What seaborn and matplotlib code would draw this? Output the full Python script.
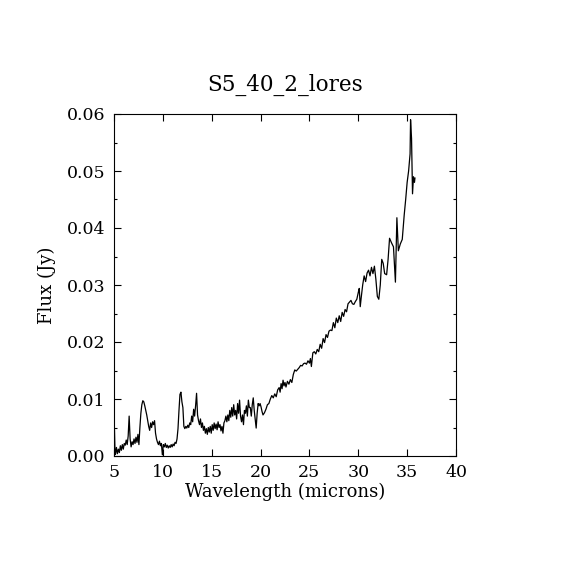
import numpy as np
import pandas as pd
import seaborn as sns
import matplotlib
matplotlib.use("Agg")
import matplotlib.pyplot as plt
from matplotlib.ticker import MultipleLocator

# spectrum
wavelength = [5.0, 5.05, 5.1, 5.15, 5.25, 5.35, 5.45, 5.55, 5.65, 5.75, 5.85, 5.95,
              6.05, 6.15, 6.25, 6.35, 6.45, 6.55, 6.65, 6.75, 6.85, 6.95, 7.05, 7.15,
              7.25, 7.35, 7.45, 7.55, 7.65, 7.75, 7.85, 7.95, 8.05, 8.15, 8.25, 8.35,
              8.45, 8.55, 8.65, 8.75, 8.85, 8.95, 9.05, 9.15, 9.25, 9.35, 9.45, 9.55,
              9.65, 9.75, 9.85, 9.95, 10.05, 10.15, 10.25, 10.35, 10.45, 10.55, 10.65,
              10.75, 10.85, 10.95, 11.05, 11.15, 11.25, 11.35, 11.45, 11.55, 11.65,
              11.75, 11.85, 11.95, 12.05, 12.15, 12.25, 12.35, 12.45, 12.55, 12.65,
              12.75, 12.85, 12.95, 13.05, 13.15, 13.25, 13.35, 13.45, 13.55, 13.65,
              13.75, 13.85, 13.95, 14.05, 14.15, 14.25, 14.35, 14.45, 14.55, 14.65,
              14.75, 14.85, 14.95, 15.05, 15.15, 15.25, 15.35, 15.45, 15.55, 15.65,
              15.75, 15.85, 15.95, 16.05, 16.15, 16.25, 16.35, 16.45, 16.55, 16.65,
              16.75, 16.85, 16.95, 17.05, 17.15, 17.25, 17.35, 17.45, 17.55, 17.65,
              17.75, 17.85, 17.95, 18.05, 18.15, 18.25, 18.35, 18.45, 18.55, 18.65,
              18.75, 18.85, 18.95, 19.05, 19.15, 19.25, 19.35, 19.45, 19.55, 19.65,
              19.75, 19.85, 19.95, 20.05, 20.15, 20.25, 20.4, 20.55, 20.7, 20.85,
              21.0, 21.15, 21.3, 21.45, 21.6, 21.75, 21.9, 22.0, 22.1, 22.2, 22.3,
              22.4, 22.5, 22.6, 22.75, 22.9, 23.05, 23.2, 23.35, 23.5, 23.65, 23.8,
              23.95, 24.1, 24.25, 24.4, 24.55, 24.7, 24.85, 25.0, 25.1, 25.2, 25.35,
              25.5, 25.65, 25.8, 25.95, 26.1, 26.25, 26.4, 26.55, 26.7, 26.85, 27.0,
              27.15, 27.3, 27.45, 27.6, 27.75, 27.9, 28.05, 28.2, 28.35, 28.5, 28.65,
              28.8, 28.95, 29.1, 29.25, 29.4, 29.55, 29.7, 29.85, 30.0, 30.1, 30.2,
              30.3, 30.45, 30.6, 30.75, 30.9, 31.05, 31.2, 31.35, 31.5, 31.65, 31.8,
              31.95, 32.1, 32.25, 32.4, 32.55, 32.7, 32.9, 33.05, 33.2, 33.4, 33.6,
              33.8, 33.95, 34.1, 34.3, 34.5, 34.7, 34.85, 35.0, 35.15, 35.3, 35.35,
              35.45, 35.55, 35.65, 35.75, 35.8]
flux = [0.0058, 0.0045, 0.0010, 0.0003, 0.0015, 0.0004, 0.0012, 0.0006, 0.0018, 0.0010,
        0.0020, 0.0012, 0.0022, 0.0019, 0.0028, 0.0020, 0.0035, 0.0070, 0.0030, 0.0016,
        0.0025, 0.0020, 0.0030, 0.0022, 0.0033, 0.0024, 0.0038, 0.0020, 0.0050, 0.0075,
        0.0090, 0.0097, 0.0095, 0.0088, 0.0080, 0.0072, 0.0062, 0.0052, 0.0045, 0.0058,
        0.0050, 0.0060, 0.0055, 0.0062, 0.0040, 0.0030, 0.0024, 0.0020, 0.0026, 0.0018,
        0.0022, 0.0002, 0.0020, 0.0016, 0.0022, 0.0015, 0.0019, 0.0014, 0.0018, 0.0015,
        0.0020, 0.0016, 0.0021, 0.0018, 0.0024, 0.0022, 0.0030, 0.0048, 0.0080, 0.0108,
        0.0112, 0.0095, 0.0085, 0.0052, 0.0048, 0.0052, 0.0049, 0.0054, 0.0050, 0.0058,
        0.0055, 0.0070, 0.0060, 0.0082, 0.0070, 0.0088, 0.0110, 0.0072, 0.0062, 0.0055,
        0.0065, 0.0050, 0.0058, 0.0045, 0.0052, 0.0040, 0.0048, 0.0038, 0.0050, 0.0042,
        0.0052, 0.0040, 0.0055, 0.0045, 0.0058, 0.0048, 0.0056, 0.0046, 0.0060, 0.0050,
        0.0055, 0.0044, 0.0052, 0.0040, 0.0058, 0.0062, 0.0070, 0.0060, 0.0072, 0.0062,
        0.0080, 0.0068, 0.0085, 0.0070, 0.0090, 0.0072, 0.0080, 0.0065, 0.0092, 0.0075,
        0.0098, 0.0070, 0.0060, 0.0072, 0.0055, 0.0080, 0.0075, 0.0088, 0.0070, 0.0098,
        0.0085, 0.0085, 0.0070, 0.0090, 0.0102, 0.0080, 0.0065, 0.0049, 0.0075, 0.0092,
        0.0088, 0.0092, 0.0086, 0.0078, 0.0072, 0.0076, 0.0082, 0.0090, 0.0092, 0.0100,
        0.0106, 0.0102, 0.0109, 0.0104, 0.0116, 0.0120, 0.0112, 0.0127, 0.0118, 0.0133,
        0.0123, 0.0129, 0.0121, 0.0131, 0.0126, 0.0134, 0.0129, 0.0143, 0.0151, 0.0149,
        0.0152, 0.0155, 0.0159, 0.0158, 0.0162, 0.0163, 0.0161, 0.0167, 0.0163, 0.0171,
        0.0157, 0.0181, 0.0183, 0.0179, 0.0187, 0.0183, 0.0196, 0.0189, 0.0206, 0.0199,
        0.0213, 0.0208, 0.0219, 0.0221, 0.0220, 0.0234, 0.0225, 0.0242, 0.0234, 0.0246,
        0.0236, 0.0252, 0.0245, 0.0257, 0.0253, 0.0267, 0.0270, 0.0273, 0.0267, 0.0266,
        0.0271, 0.0275, 0.0287, 0.0294, 0.0262, 0.0278, 0.0300, 0.0316, 0.0306, 0.0321,
        0.0326, 0.0316, 0.0331, 0.0320, 0.0333, 0.0310, 0.0280, 0.0275, 0.0300, 0.0345,
        0.0338, 0.0320, 0.0318, 0.0345, 0.0382, 0.0374, 0.0367, 0.0305, 0.0418, 0.0360,
        0.0372, 0.0380, 0.0423, 0.0450, 0.0480, 0.0500, 0.0530, 0.0590, 0.0557, 0.0460,
        0.0490, 0.0480, 0.0488]

df = pd.DataFrame({"wavelength": wavelength, "flux": flux})

sns.set_style("ticks")
plt.rcParams['font.family'] = ['DejaVu Serif']
plt.rcParams['text.color'] = 'black'
plt.rcParams['axes.labelcolor'] = 'black'
plt.rcParams['xtick.color'] = 'black'
plt.rcParams['ytick.color'] = 'black'

fig = plt.figure(figsize=(5.7, 5.7), dpi=100)
ax = fig.add_axes([0.2, 0.2, 0.6, 0.6])
sns.lineplot(data=df, x="wavelength", y="flux", estimator=None, sort=False,
             color="black", linewidth=0.9, ax=ax)

ax.set_xlim(5, 40)
ax.set_ylim(0, 0.06)
ax.xaxis.set_major_locator(MultipleLocator(5))
ax.yaxis.set_major_locator(MultipleLocator(0.01))
ax.yaxis.set_minor_locator(MultipleLocator(0.005))
ax.yaxis.set_major_formatter(plt.FormatStrFormatter('%.2f'))
ax.tick_params(which="both", direction="in", top=True, right=True,
               labelsize=12.5, width=0.8, pad=6)
ax.tick_params(which="major", length=5)
ax.tick_params(which="minor", length=2.5)
for s in ax.spines.values():
    s.set_linewidth(0.8)
    s.set_color("black")

ax.set_xlabel("Wavelength (microns)", fontsize=13, labelpad=1)
ax.set_ylabel("Flux (Jy)", fontsize=13, labelpad=8)
ax.set_title("S5_40_2_lores", fontsize=15.5, pad=17)

fig.savefig("out.png", dpi=100, facecolor="white")
